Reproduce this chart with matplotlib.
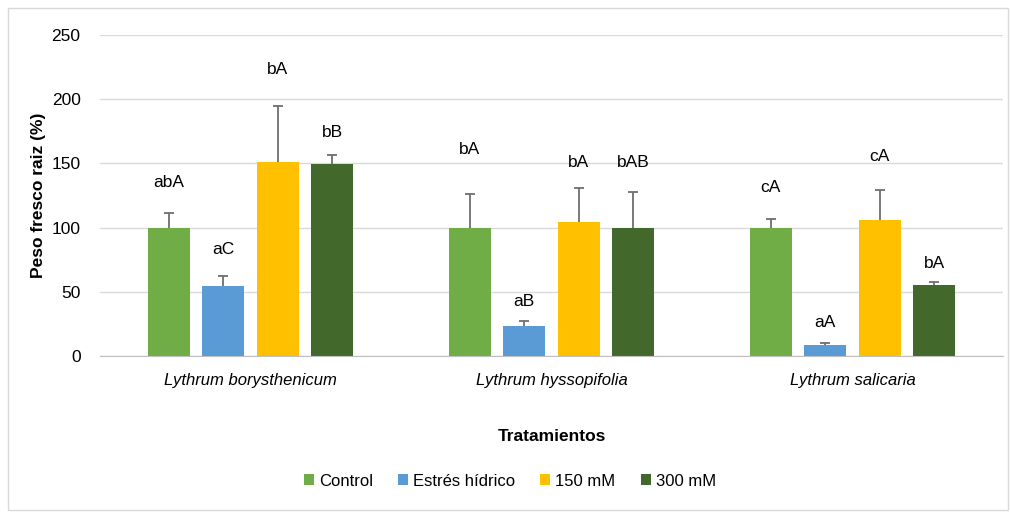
import numpy as np
import matplotlib.pyplot as plt
from matplotlib.patches import Patch, Rectangle

plt.rcParams['font.family'] = ['Liberation Sans', 'DejaVu Sans']

# Datos: peso fresco de raíz (%) por especie y tratamiento
species = ['Lythrum borysthenicum', 'Lythrum hyssopifolia', 'Lythrum salicaria']
treatments = ['Control', 'Estrés hídrico', '150 mM', '300 mM']
colors = ['#70AD47', '#5B9BD5', '#FFC000', '#43682B']

control = [100, 100, 100]
estres = [54.5, 23, 8.5]
mm150 = [151, 104, 106]
mm300 = [149.5, 100, 55]

control_err = [11, 26, 7]
estres_err = [7.5, 4, 1.5]
mm150_err = [44, 27, 23]
mm300_err = [7, 28, 2.5]

# letras de significación y altura a la que se escriben
control_lbl = ['abA', 'bA', 'cA']
estres_lbl = ['aC', 'aB', 'aA']
mm150_lbl = ['bA', 'bA', 'cA']
mm300_lbl = ['bB', 'bAB', 'bA']

control_lbl_y = [135, 161, 131]
estres_lbl_y = [83, 42, 26]
mm150_lbl_y = [223, 151, 155]
mm300_lbl_y = [174, 151, 72]

values = [control, estres, mm150, mm300]
errors = [control_err, estres_err, mm150_err, mm300_err]
labels = [control_lbl, estres_lbl, mm150_lbl, mm300_lbl]
label_y = [control_lbl_y, estres_lbl_y, mm150_lbl_y, mm300_lbl_y]

fig = plt.figure(figsize=(10.1, 5.15), dpi=100)
ax = fig.add_axes([0.099, 0.309, 0.894, 0.623])

x = np.arange(len(species))
width = 0.14
step = 0.181
offsets = (np.arange(4) - 1.5) * step

for i in range(4):
    pos = x + offsets[i]
    vals = np.array(values[i])
    err = np.array(errors[i])
    ax.bar(pos, vals, width, color=colors[i], zorder=2)
    # barra de error solo hacia arriba, con remate en el extremo
    ax.errorbar(pos, vals, yerr=[np.zeros(3), err], fmt='none',
                ecolor='#6E6E6E', elinewidth=1.3, capsize=0, zorder=3)
    ax.scatter(pos, vals + err, marker='_', s=55, color='#6E6E6E',
               linewidths=1.3, zorder=3)
    for j in range(3):
        ax.text(pos[j], label_y[i][j], labels[i][j], ha='center', va='center',
                fontsize=12.5, color='#000000')

ax.set_xlim(-0.5, 2.5)
ax.set_ylim(0, 250)
ax.set_yticks(range(0, 251, 50))
ax.yaxis.grid(True, color='#D9D9D9', linewidth=1, zorder=0)
ax.set_axisbelow(True)
for s in ['top', 'right', 'left']:
    ax.spines[s].set_visible(False)
ax.spines['bottom'].set_color('#BFBFBF')
ax.tick_params(axis='y', length=0, labelsize=12.5, pad=14, colors='#000000')
ax.tick_params(axis='x', length=0, pad=12)
ax.set_xticks(x)
ax.set_xticklabels(species, fontsize=12, style='italic')

ax.set_ylabel('Peso fresco raiz (%)', fontsize=12.5, fontweight='bold', labelpad=4)
ax.set_xlabel('Tratamientos', fontsize=12.5, fontweight='bold', labelpad=30)

handles = [Patch(facecolor=c, label=t) for c, t in zip(colors, treatments)]
fig.legend(handles=handles, loc='center', bbox_to_anchor=(0.505, 0.066), ncol=4,
           frameon=False, fontsize=12, handlelength=0.6, handleheight=0.6,
           handletextpad=0.3, columnspacing=1.5)

# marco del gráfico
fig.patches.append(Rectangle((0.008, 0.01), 0.99, 0.975, transform=fig.transFigure,
                             fill=False, edgecolor='#D9D9D9', linewidth=1))

fig.savefig('out.png', dpi=100)
